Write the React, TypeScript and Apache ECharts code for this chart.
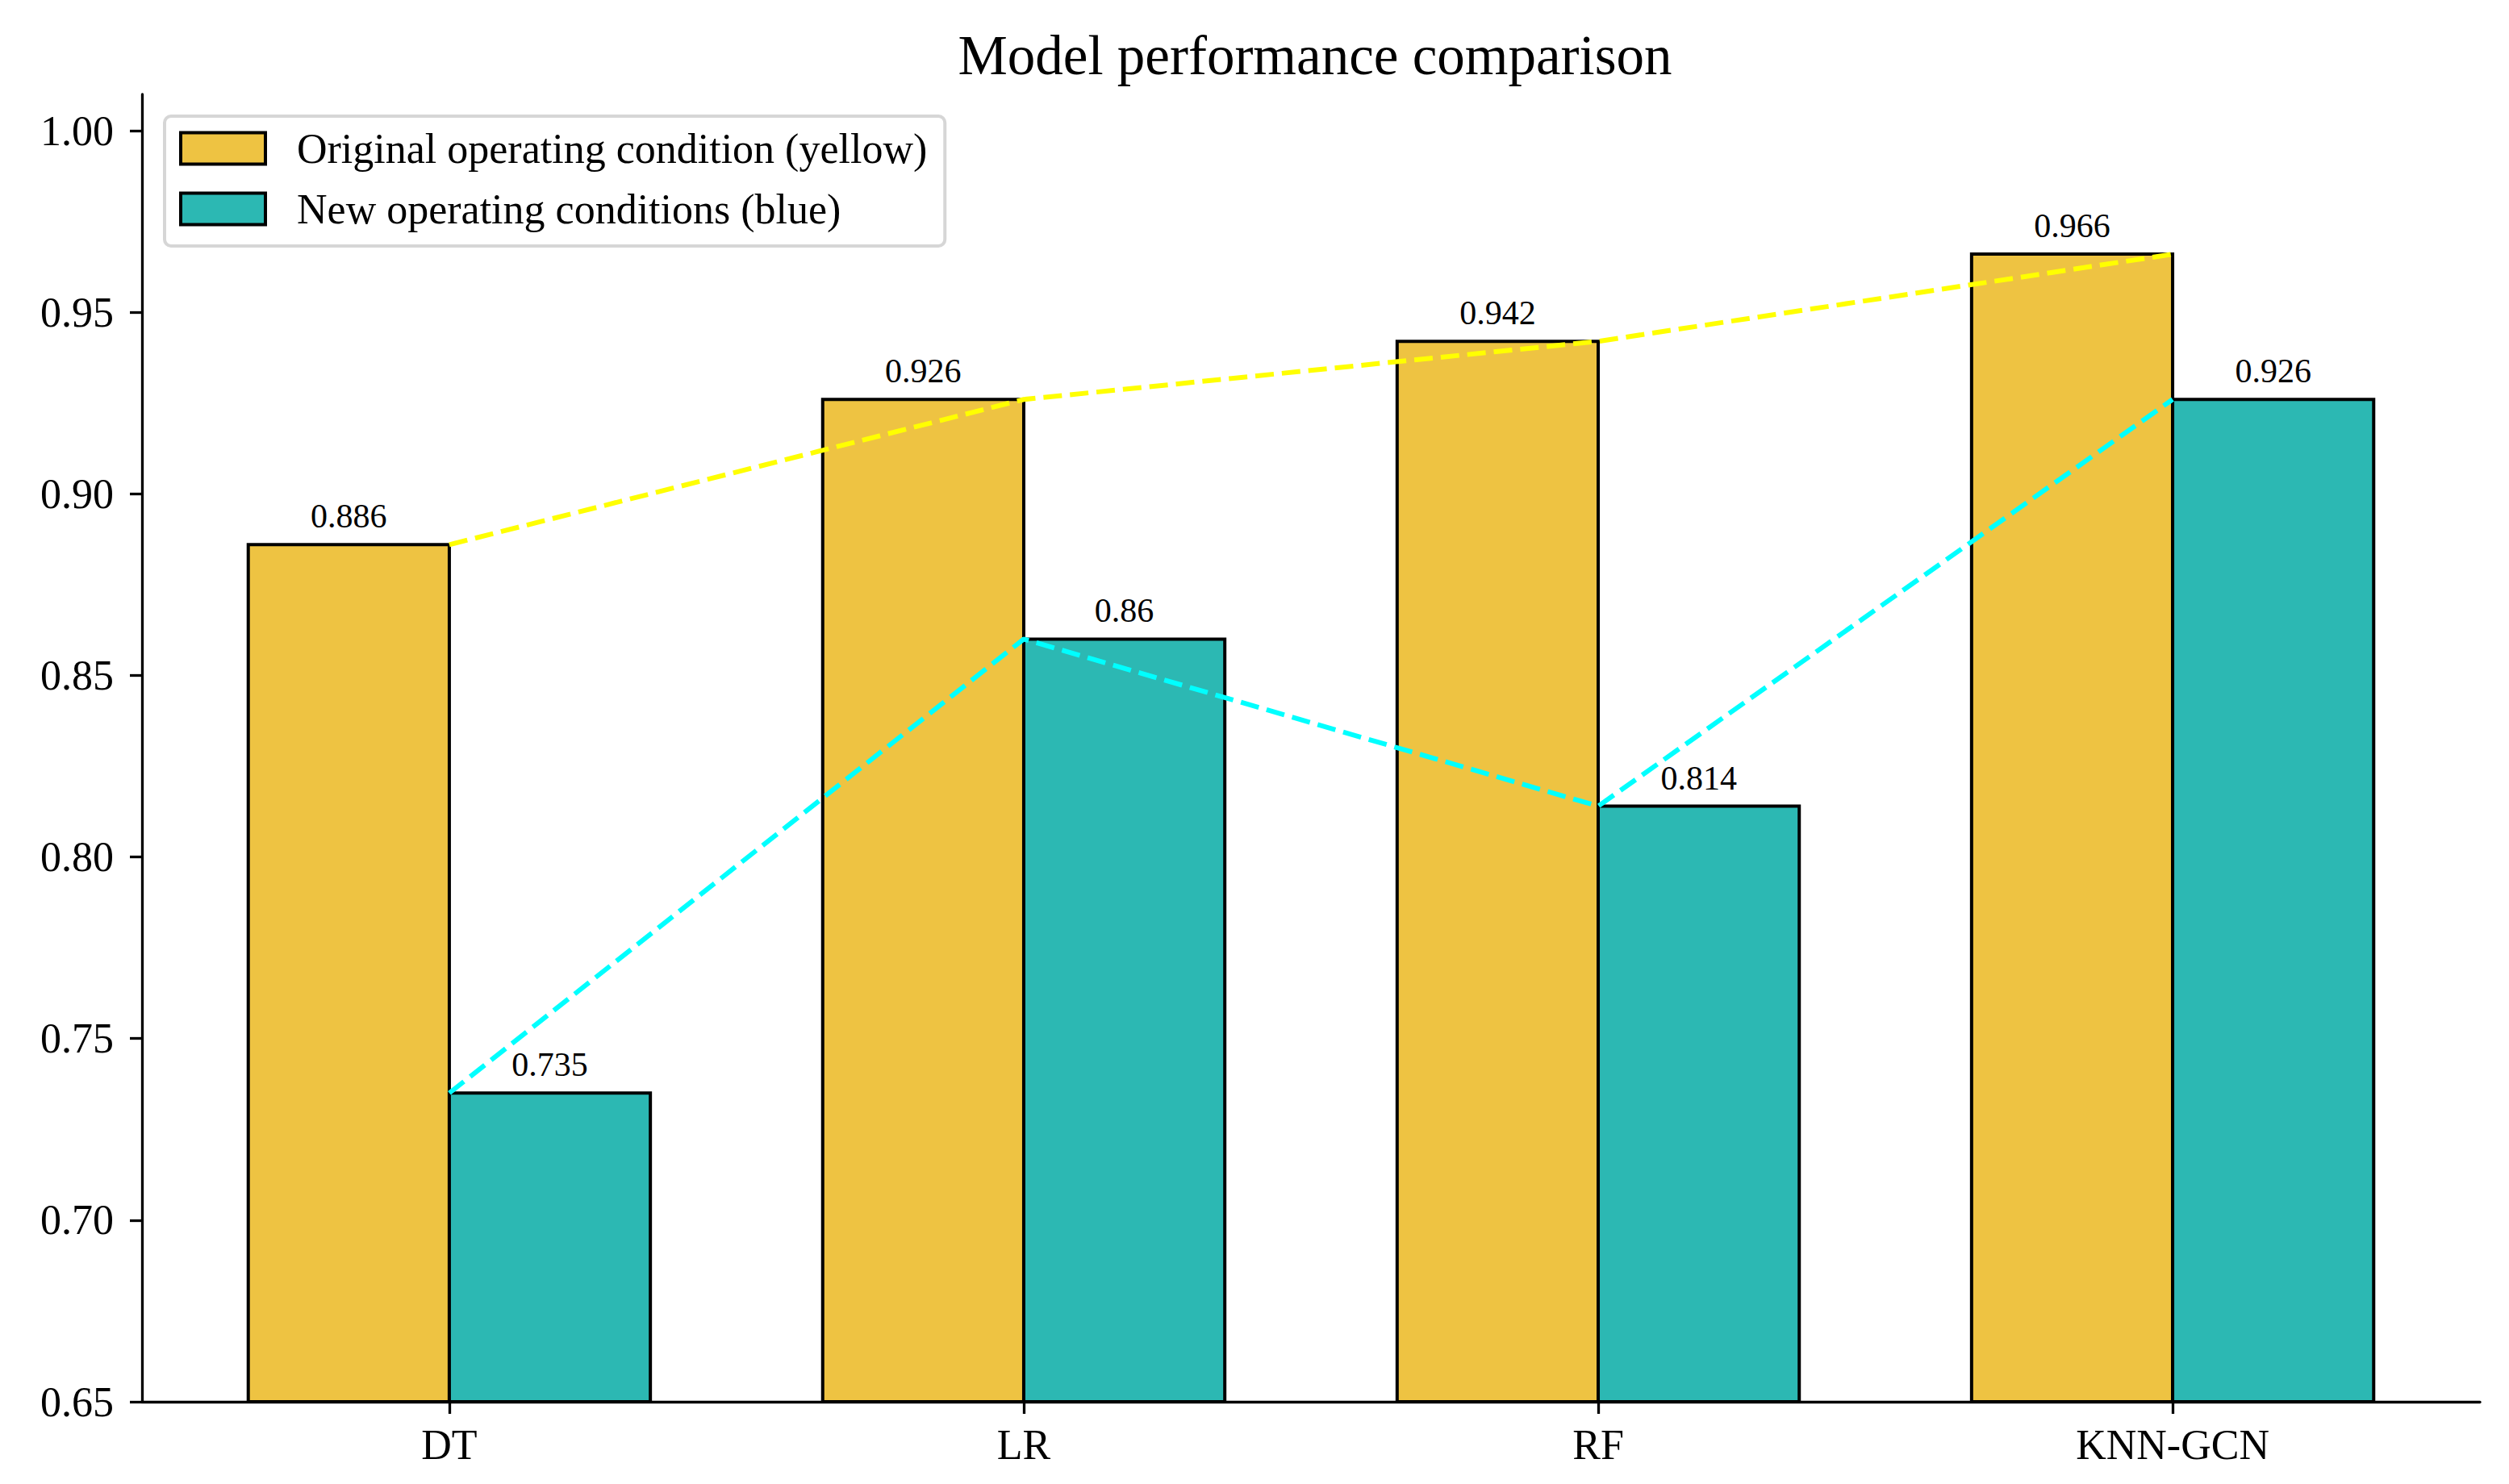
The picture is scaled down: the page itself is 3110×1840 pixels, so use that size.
import React, { useEffect, useRef } from "react";
import * as echarts from "echarts";

const categories = ["DT", "LR", "RF", "KNN-GCN"];
const originalValues = [0.886, 0.926, 0.942, 0.966];
const newValues = [0.735, 0.86, 0.814, 0.926];
const yTicks = [0.65, 0.7, 0.75, 0.8, 0.85, 0.9, 0.95, 1.0];
const xTicks = [0, 1, 2, 3];
const seriesNames = ["Original operating condition (yellow)", "New operating conditions (blue)"];

const FONT = "'Liberation Serif', 'Times New Roman', serif";
const YELLOW = "#EEC342";
const TEAL = "#2CB8B3";
const BAR_W = 0.35;
const Y_MIN = 0.65;

function makeBarSeries(name: string, values: number[], color: string, offset: number) {
  return {
    type: "custom",
    name,
    z: 2,
    encode: { x: 0, y: 1 },
    itemStyle: { color, borderColor: "#000", borderWidth: 4 },
    data: values.map((v, i) => [xTicks[i], v]),
    renderItem: (params: any, api: any) => {
      const x = api.value(0);
      const y = api.value(1);
      const p0 = api.coord([x + offset - BAR_W / 2, y]);
      const p1 = api.coord([x + offset + BAR_W / 2, Y_MIN]);
      const cx = (p0[0] + p1[0]) / 2;
      return {
        type: "group",
        children: [
          {
            type: "rect",
            shape: { x: p0[0], y: p0[1], width: p1[0] - p0[0], height: p1[1] - p0[1] },
            style: { fill: color, stroke: "#000", lineWidth: 4 },
          },
          {
            type: "text",
            z2: 10,
            style: {
              text: String(y),
              x: cx,
              y: p0[1] - 14,
              align: "center",
              verticalAlign: "bottom",
              fontSize: 42,
              fontFamily: FONT,
              fill: "#000",
            },
          },
        ],
      };
    },
  };
}

export default function App() {
  const ref = useRef<HTMLDivElement>(null);
  useEffect(() => {
    document.body.style.margin = "0";
    const chart = echarts.init(ref.current!, null, { renderer: "svg" });
    const option: any = {
      animation: false,
      backgroundColor: "#fff",
      title: {
        text: "Model performance comparison",
        left: 1625,
        top: 29,
        textAlign: "center",
        textStyle: { fontFamily: FONT, fontSize: 69, fontWeight: "normal", color: "#000" },
      },
      legend: {
        orient: "vertical",
        left: 204,
        top: 144,
        padding: [14, 22, 20, 18],
        itemWidth: 105,
        itemHeight: 39,
        itemGap: 23,
        backgroundColor: "#fff",
        borderColor: "#d6d6d6",
        borderWidth: 4,
        borderRadius: 8,
        textStyle: { fontFamily: FONT, fontSize: 52, color: "#000", lineHeight: 39, padding: [0, 0, 0, 34] },
        data: [
          { name: seriesNames[0], icon: "rect", itemStyle: { color: YELLOW, borderColor: "#000", borderWidth: 4 } },
          { name: seriesNames[1], icon: "rect", itemStyle: { color: TEAL, borderColor: "#000", borderWidth: 4 } },
        ],
      },
      grid: { left: 176, right: 36, top: 117, bottom: 102, containLabel: false },
      xAxis: {
        type: "value",
        min: -0.535,
        max: 3.535,
        splitLine: { show: false },
        axisLine: { show: true, onZero: false, lineStyle: { color: "#000", width: 3.3 } },
        axisTick: { show: true, customValues: xTicks, length: 15, lineStyle: { color: "#000", width: 3.3 } },
        axisLabel: {
          customValues: xTicks,
          margin: 27,
          fontFamily: FONT,
          fontSize: 52,
          color: "#000",
          formatter: (v: number) => categories[Math.round(v)] ?? "",
        },
      },
      yAxis: {
        type: "value",
        min: Y_MIN,
        max: 1.01,
        splitLine: { show: false },
        axisLine: { show: true, onZero: false, lineStyle: { color: "#000", width: 3.3 } },
        axisTick: { show: true, customValues: yTicks, length: 15, lineStyle: { color: "#000", width: 3.3 } },
        axisLabel: {
          customValues: yTicks,
          margin: 35,
          fontFamily: FONT,
          fontSize: 52,
          color: "#000",
          formatter: (v: number) => v.toFixed(2),
        },
      },
      series: [
        makeBarSeries(seriesNames[0], originalValues, YELLOW, -BAR_W / 2),
        makeBarSeries(seriesNames[1], newValues, TEAL, BAR_W / 2),
        {
          type: "line",
          name: "orig-line",
          z: 5,
          silent: true,
          symbol: "none",
          data: originalValues.map((v, i) => [xTicks[i], v]),
          lineStyle: { color: "#ffff00", width: 6, type: [23, 10] },
        },
        {
          type: "line",
          name: "new-line",
          z: 5,
          silent: true,
          symbol: "none",
          data: newValues.map((v, i) => [xTicks[i], v]),
          lineStyle: { color: "#00ffff", width: 6, type: [23, 10] },
        },
      ],
    };
    chart.setOption(option);
    return () => chart.dispose();
  }, []);
  return (
    <div
      ref={ref}
      style={{ position: "fixed", left: 0, top: 0, width: "3110px", height: "1840px" }}
    />
  );
}
